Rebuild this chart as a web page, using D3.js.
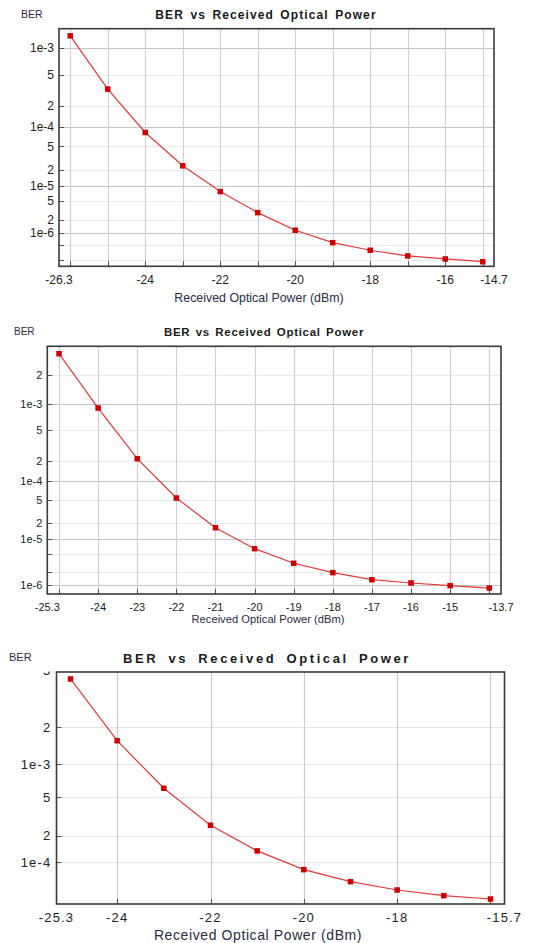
<!DOCTYPE html>
<html><head><meta charset="utf-8">
<script src="https://cdn.jsdelivr.net/npm/d3@7"></script>
<style>body{margin:0;background:#fff}svg{display:block}</style>
</head><body>
<svg id="chart" width="545" height="943"></svg>
<script>
// ---------- data ----------
const power1 = [-26,-25,-24,-23,-22,-21,-20,-19,-18,-17,-16,-15];
const ber1 = [1.34e-3,3.32e-4,8.26e-5,2.35e-5,7.76e-6,2.85e-6,1.14e-6,5.71e-7,3.67e-7,2.61e-7,2.17e-7,1.83e-7];
const power2 = [-25,-24,-23,-22,-21,-20,-19,-18,-17,-16,-15,-14];
const ber2 = [3.13e-3,9.03e-4,2.13e-4,5.48e-5,1.66e-5,6.46e-6,3.17e-6,1.95e-6,1.34e-6,1.12e-6,9.64e-7,8.45e-7];
const power3 = [-25,-24,-23,-22,-21,-20,-19,-18,-17,-16];
const ber3 = [4.40e-3,1.57e-3,6.08e-4,2.60e-4,1.35e-4,8.05e-5,5.68e-5,4.42e-5,3.71e-5,3.34e-5];

// axis limits / ticks
const xDomain1 = [-26.3,-14.7];
const xGrid1 = [-26,-25,-24,-23,-22,-21,-20,-19,-18,-17,-16,-15];
const xLabels1 = [-26.3,-24,-22,-20,-18,-16,-14.7];
const yDomain1 = [1.58e-3,1.37e-7];
const yTicks1 = [1e-3,5e-4,2e-4,1e-4,5e-5,2e-5,1e-5,5e-6,2e-6,1e-6,5e-7,2e-7];
const yLabels1 = ["1e-3","5","2","1e-4","5","2","1e-5","5","2","1e-6","",""];

const xDomain2 = [-25.3,-13.7];
const xGrid2 = [-25,-24,-23,-22,-21,-20,-19,-18,-17,-16,-15,-14];
const xLabels2 = [-25.3,-24,-23,-22,-21,-20,-19,-18,-17,-16,-15,-13.7];
const yDomain2 = [3.63e-3,6.0e-7];
const yTicks2 = [2e-3,1e-3,5e-4,2e-4,1e-4,5e-5,2e-5,1e-5,5e-6,2e-6,1e-6];
const yLabels2 = ["2","1e-3","5","2","1e-4","5","2","1e-5","","","1e-6"];

const xDomain3 = [-25.3,-15.7];
const xGrid3 = [-24,-22,-20,-18,-16];
const xLabels3 = [-25.3,-24,-22,-20,-18,-15.7];
const yDomain3 = [4.88e-3,2.85e-5];
const yTicks3 = [5e-3,2e-3,1e-3,5e-4,2e-4,1e-4];
const yLabels3 = ["5","2","1e-3","5","2","1e-4"];

const titleText = "BER vs Received Optical Power";
const xTitleText = "Received Optical Power (dBm)";
const yTitleText = "BER";

// ---------- layout ----------
const panels = [
  {x:power1, y:ber1, xDomain:xDomain1, xGrid:xGrid1, xLabels:xLabels1, yDomain:yDomain1, yTicks:yTicks1, yLabels:yLabels1,
   box:{l:59,r:494,t:28.7,b:266.3}, fs:12, tfs:12, tls:1.1, tws:2, xtfs:12.4, xtls:0, bfs:10.5,
   berPos:[21,14], titlePos:[266,15], xLabY:280, xTitlePos:[259,298], minorGrid:"#ebebeb", majorGrid:"#c4c4c4", vGrid:"#cfcfcf", lblls:0},
  {x:power2, y:ber2, xDomain:xDomain2, xGrid:xGrid2, xLabels:xLabels2, yDomain:yDomain2, yTicks:yTicks2, yLabels:yLabels2,
   box:{l:47.3,r:501,t:346.3,b:594}, fs:11, tfs:11.5, tls:0.7, tws:1.5, xtfs:11.2, xtls:0, bfs:10,
   berPos:[14,331], titlePos:[264,332], xLabY:607, xTitlePos:[268,619], minorGrid:"#ebebeb", majorGrid:"#c4c4c4", vGrid:"#cfcfcf", lblls:0},
  {x:power3, y:ber3, xDomain:xDomain3, xGrid:xGrid3, xLabels:xLabels3, yDomain:yDomain3, yTicks:yTicks3, yLabels:yLabels3,
   box:{l:56.5,r:504.5,t:672,b:904}, fs:13, tfs:13, tls:2.6, tws:4, xtfs:14, xtls:0.6, bfs:11,
   berPos:[9,657], titlePos:[267,658], xLabY:917, xTitlePos:[258,935], minorGrid:"#e4e4e4", majorGrid:"#e4e4e4", vGrid:"#cacaca", lblls:1.2}
];

const svg = d3.select("#chart");
const FONT = "'Liberation Sans', Arial, sans-serif";
const defs = svg.append("defs");

panels.forEach((p, i) => {
  const g = svg.append("g");
  const B = p.box;
  const x = d3.scaleLinear().domain(p.xDomain).range([B.l, B.r]);
  // BER axis: power-law on -log10(BER)
  const ys = d3.scalePow().exponent(-0.15)
      .domain(p.yDomain.map(v => -Math.log10(v))).range([B.t, B.b]);
  const y = v => ys(-Math.log10(v));

  const inside = v => y(v) >= B.t - 0.5 && y(v) <= B.b + 0.5;
  const isMajor = v => Math.abs(Math.log10(v) - Math.round(Math.log10(v))) < 1e-6;

  // horizontal grid
  g.append("g").selectAll("line").data(p.yTicks.filter(inside)).join("line")
    .attr("x1", B.l).attr("x2", B.r)
    .attr("y1", d => Math.round(y(d)) + 0.5).attr("y2", d => Math.round(y(d)) + 0.5)
    .attr("stroke", d => isMajor(d) ? p.majorGrid : p.minorGrid).attr("stroke-width", 1.2);
  // vertical grid
  g.append("g").selectAll("line").data(p.xGrid).join("line")
    .attr("x1", d => Math.round(x(d)) + 0.5).attr("x2", d => Math.round(x(d)) + 0.5)
    .attr("y1", B.t).attr("y2", B.b)
    .attr("stroke", p.vGrid).attr("stroke-width", 1.2);

  // inward ticks
  g.append("g").selectAll("line").data(p.yTicks.filter(inside)).join("line")
    .attr("x1", B.l).attr("x2", B.l + 5)
    .attr("y1", d => Math.round(y(d)) + 0.5).attr("y2", d => Math.round(y(d)) + 0.5)
    .attr("stroke", "#555").attr("stroke-width", 1);
  g.append("g").selectAll("line").data(p.xGrid).join("line")
    .attr("x1", d => Math.round(x(d)) + 0.5).attr("x2", d => Math.round(x(d)) + 0.5)
    .attr("y1", B.b).attr("y2", B.b - 5)
    .attr("stroke", "#555").attr("stroke-width", 1);

  // frame
  g.append("rect").attr("x", B.l).attr("y", B.t).attr("width", B.r - B.l).attr("height", B.b - B.t)
    .attr("fill", "none").attr("stroke", "#3a3a3a").attr("stroke-width", 1.6);

  // y labels (clipped at the top of the drawing area)
  const cid = "clip" + i;
  defs.append("clipPath").attr("id", cid).append("rect")
    .attr("x", 0).attr("y", B.t - 0.5).attr("width", B.l).attr("height", B.b - B.t + 20);
  g.append("g").attr("clip-path", `url(#${cid})`).selectAll("text")
    .data(p.yTicks.map((v, k) => ({v, s: p.yLabels[k]})).filter(d => d.s !== "")).join("text")
    .attr("x", B.l - 5).attr("y", d => y(d.v)).attr("dy", "0.36em")
    .attr("text-anchor", "end").attr("font-family", FONT).attr("font-size", p.fs)
    .attr("letter-spacing", p.lblls).attr("fill", "#222").text(d => d.s);

  // x labels
  g.append("g").selectAll("text").data(p.xLabels).join("text")
    .attr("x", d => x(d)).attr("y", p.xLabY).attr("dy", "0.36em")
    .attr("text-anchor", "middle").attr("font-family", FONT).attr("font-size", p.fs)
    .attr("letter-spacing", p.lblls).attr("fill", "#222").text(d => String(d));

  // titles
  g.append("text").attr("x", p.titlePos[0]).attr("y", p.titlePos[1]).attr("dy", "0.36em")
    .attr("text-anchor", "middle").attr("font-family", FONT).attr("font-weight", "bold")
    .attr("font-size", p.tfs).attr("letter-spacing", p.tls).attr("word-spacing", p.tws)
    .attr("fill", "#1a1a1a").text(titleText);
  g.append("text").attr("x", p.berPos[0]).attr("y", p.berPos[1]).attr("dy", "0.36em")
    .attr("font-family", FONT).attr("font-size", p.bfs).attr("fill", "#2b2b45").text(yTitleText);
  g.append("text").attr("x", p.xTitlePos[0]).attr("y", p.xTitlePos[1]).attr("dy", "0.36em")
    .attr("text-anchor", "middle").attr("font-family", FONT).attr("font-size", p.xtfs)
    .attr("letter-spacing", p.xtls).attr("fill", "#2b2b45").text(xTitleText);

  // series
  const pts = p.x.map((v, k) => [v, p.y[k]]);
  g.append("path").datum(pts)
    .attr("d", d3.line().x(d => x(d[0])).y(d => y(d[1])))
    .attr("fill", "none").attr("stroke", "#e23a3a").attr("stroke-width", 1.2);
  g.append("g").selectAll("rect").data(pts).join("rect")
    .attr("x", d => x(d[0]) - 2.75).attr("y", d => y(d[1]) - 2.75)
    .attr("width", 5.5).attr("height", 5.5).attr("fill", "#cc0000");
});
</script>
</body></html>
